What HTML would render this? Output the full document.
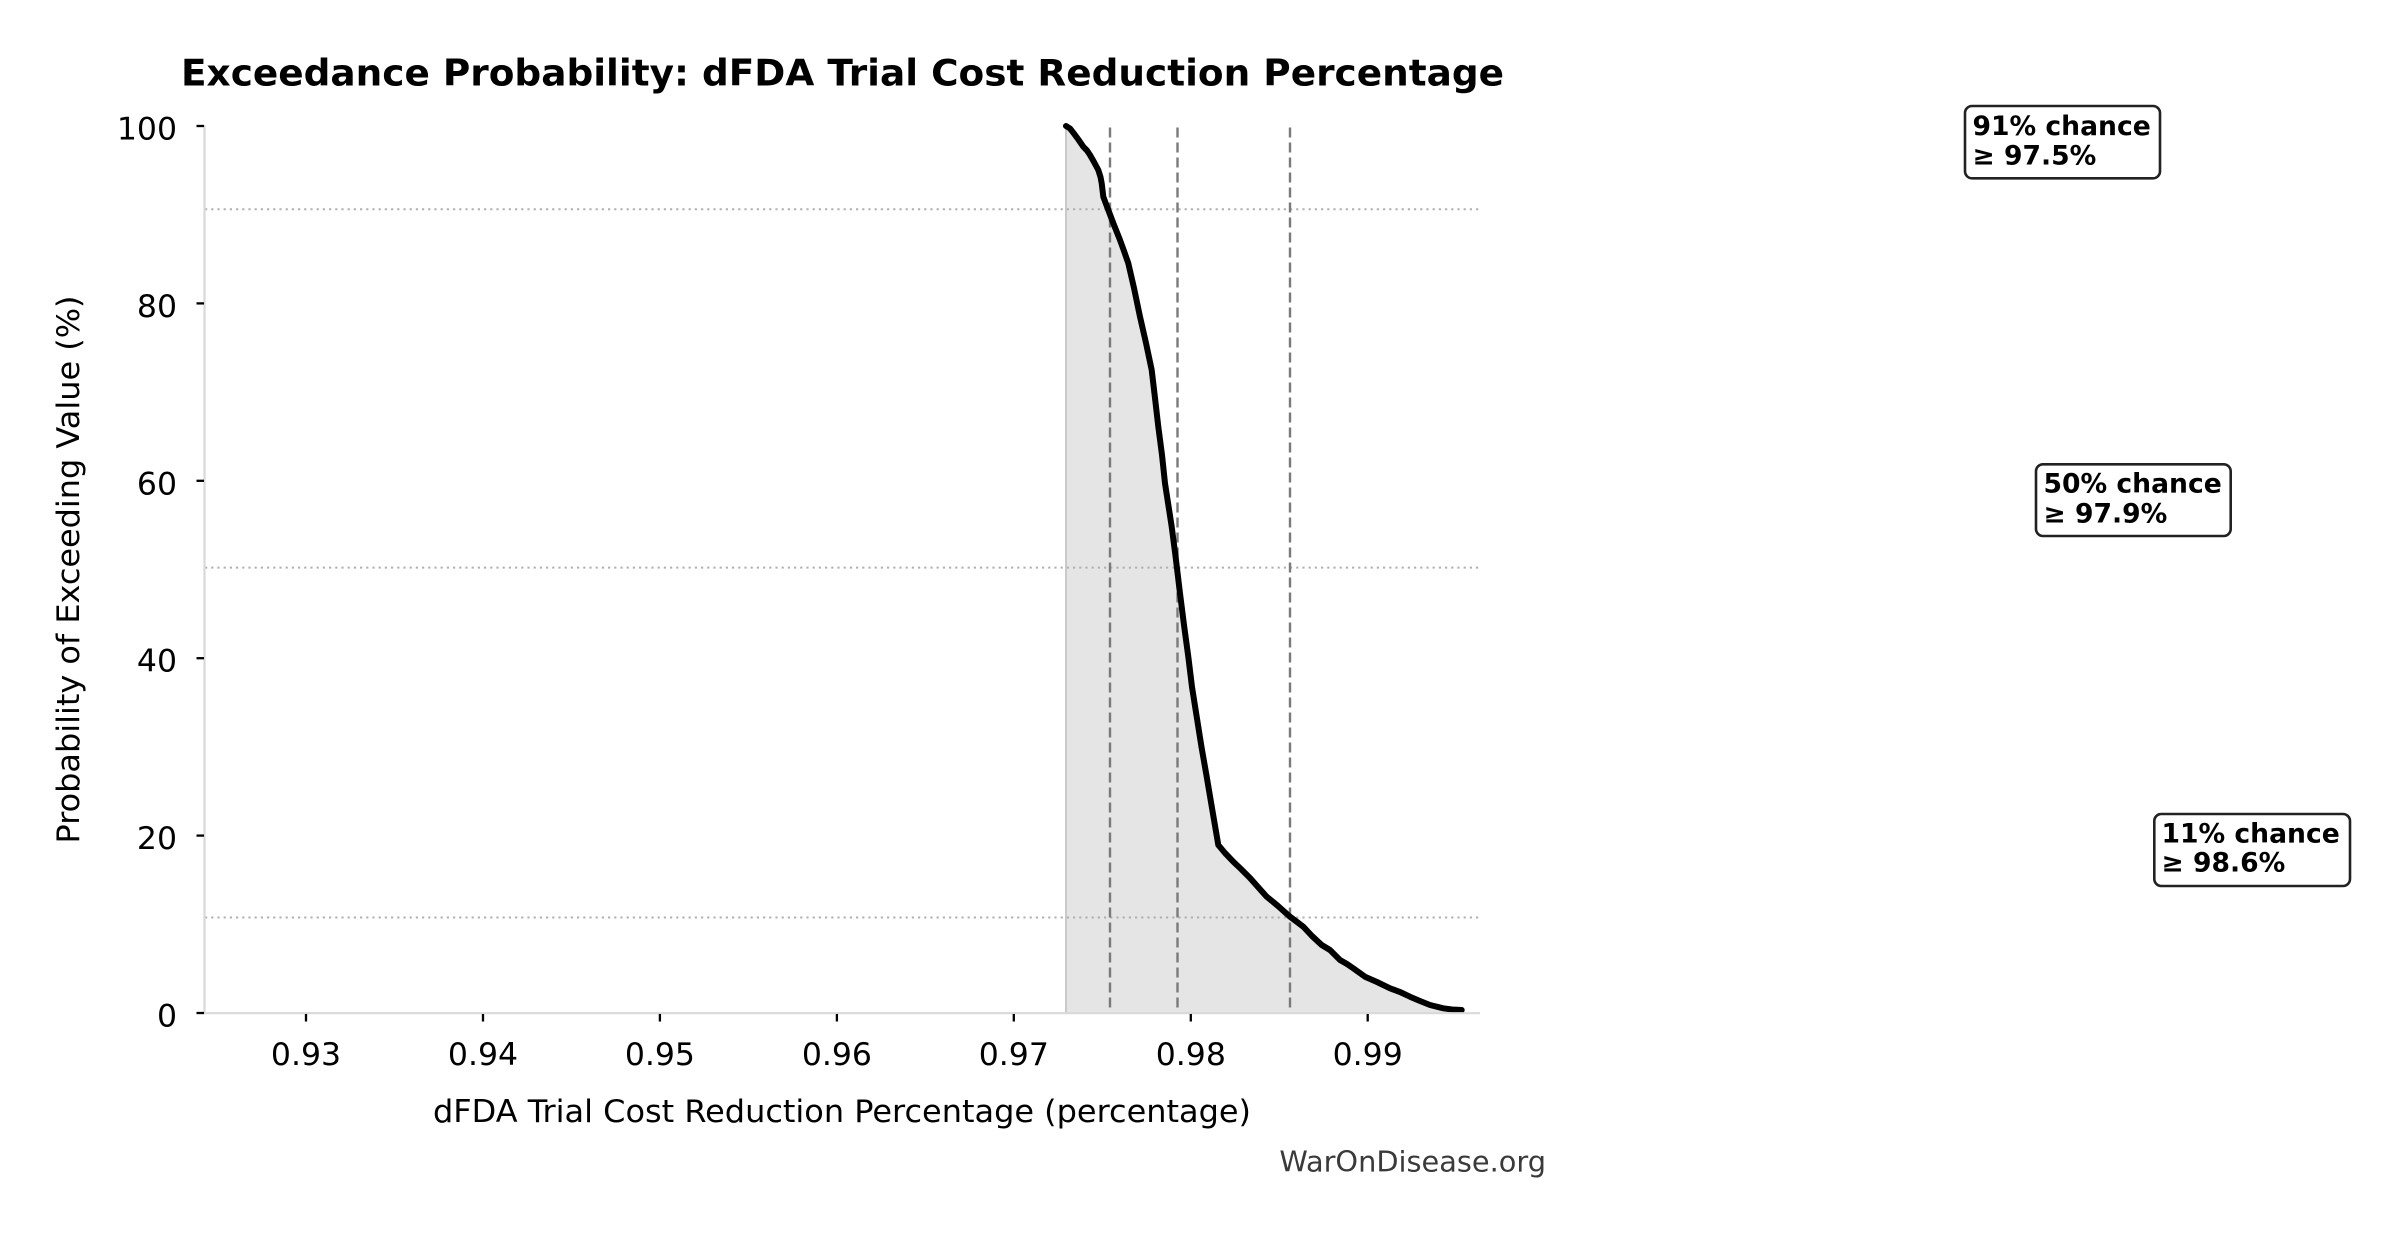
<!DOCTYPE html>
<html>
<head>
<meta charset="utf-8">
<style>
  html, body { margin: 0; padding: 0; background: #ffffff; }
  body { width: 2399px; height: 1234px; overflow: hidden; }
  svg { display: block; }
  text { font-family: "DejaVu Sans", "Liberation Sans", sans-serif; }
</style>
</head>
<body>
<svg width="2399" height="1234" viewBox="0 0 2399 1234" xmlns="http://www.w3.org/2000/svg">
  <rect x="0" y="0" width="2399" height="1234" fill="#ffffff"/>

  <!-- Title -->
  <text x="181" y="85.7" font-size="36.8" font-weight="bold" fill="#000" textLength="1323" lengthAdjust="spacingAndGlyphs">Exceedance Probability: dFDA Trial Cost Reduction Percentage</text>

  <!-- Fill under curve -->
  <path d="M1066,126 L1070,128.5 L1073.3,132.7 L1078,139 L1083.3,146.7 L1087,150.5 L1090,155 L1094,162 L1098.3,170 L1100.5,177 L1101.7,183.3 L1102.5,190 L1103.3,196.7 L1106,204 L1108.3,210 L1114,225 L1120,240 L1124,251 L1128.3,263.3 L1134,288 L1140,316.7 L1146,343 L1151.7,370 L1155,398 L1158.3,426.7 L1162,455 L1165,483.3 L1168.5,506 L1171.7,526.7 L1175.5,556 L1180,593.3 L1184,625 L1188.3,656.7 L1192,687 L1196.7,716.7 L1201.5,747 L1206.7,776.7 L1212.5,811 L1218.3,845 L1225,853 L1233.3,861.7 L1241,869 L1250,878 L1258,887 L1266.7,896.7 L1278,906 L1290,916.7 L1303.3,926.7 L1312,936 L1321.7,945 L1330,950 L1340,960 L1347,964 L1353.3,968.3 L1365,976.7 L1377,982 L1390,988.3 L1400,992 L1410,996.7 L1420,1001 L1430,1005 L1443.3,1008.3 L1452,1009.5 L1461.7,1010 L1461.7,1013 L1066,1013 Z" fill="#e5e5e5" stroke="none"/>
  <line x1="1066" y1="126" x2="1066" y2="1013" stroke="#c9c9c9" stroke-width="2"/>

  <!-- Horizontal dotted reference lines -->
  <g stroke="#b0b0b0" stroke-width="2" stroke-dasharray="2.2,4">
    <line x1="205" y1="209.3" x2="1480" y2="209.3"/>
    <line x1="205" y1="567.6" x2="1480" y2="567.6"/>
    <line x1="205" y1="917.5" x2="1480" y2="917.5"/>
  </g>

  <!-- Vertical dashed percentile lines -->
  <g stroke="#7a7a7a" stroke-width="2.4" stroke-dasharray="10,5">
    <line x1="1110" y1="127.5" x2="1110" y2="1013"/>
    <line x1="1177.5" y1="127.5" x2="1177.5" y2="1013"/>
    <line x1="1290" y1="127.5" x2="1290" y2="1013"/>
  </g>

  <!-- Curve -->
  <polyline fill="none" stroke="#000" stroke-width="6" stroke-linejoin="round" stroke-linecap="round"
    points="1066,126 1070,128.5 1073.3,132.7 1078,139 1083.3,146.7 1087,150.5 1090,155 1094,162 1098.3,170 1100.5,177 1101.7,183.3 1102.5,190 1103.3,196.7 1106,204 1108.3,210 1114,225 1120,240 1124,251 1128.3,263.3 1134,288 1140,316.7 1146,343 1151.7,370 1155,398 1158.3,426.7 1162,455 1165,483.3 1168.5,506 1171.7,526.7 1175.5,556 1180,593.3 1184,625 1188.3,656.7 1192,687 1196.7,716.7 1201.5,747 1206.7,776.7 1212.5,811 1218.3,845 1225,853 1233.3,861.7 1241,869 1250,878 1258,887 1266.7,896.7 1278,906 1290,916.7 1303.3,926.7 1312,936 1321.7,945 1330,950 1340,960 1347,964 1353.3,968.3 1365,976.7 1377,982 1390,988.3 1400,992 1410,996.7 1420,1001 1430,1005 1443.3,1008.3 1452,1009.5 1461.7,1010"/>

  <!-- Spines -->
  <line x1="204.5" y1="125" x2="204.5" y2="1014" stroke="#d9d9d9" stroke-width="2.2"/>
  <line x1="203.5" y1="1013.2" x2="1480" y2="1013.2" stroke="#d9d9d9" stroke-width="2.2"/>

  <!-- Y ticks -->
  <g stroke="#000" stroke-width="2.3">
    <line x1="196.5" y1="126" x2="204" y2="126"/>
    <line x1="196.5" y1="303.4" x2="204" y2="303.4"/>
    <line x1="196.5" y1="480.8" x2="204" y2="480.8"/>
    <line x1="196.5" y1="658.2" x2="204" y2="658.2"/>
    <line x1="196.5" y1="835.6" x2="204" y2="835.6"/>
    <line x1="196.5" y1="1013" x2="204" y2="1013"/>
  </g>
  <g font-size="31.5" fill="#000" text-anchor="end">
    <text x="177" y="139.5">100</text>
    <text x="177" y="316.9">80</text>
    <text x="177" y="494.3">60</text>
    <text x="177" y="671.7">40</text>
    <text x="177" y="849.1">20</text>
    <text x="177" y="1026.5">0</text>
  </g>

  <!-- X ticks -->
  <g stroke="#000" stroke-width="2.3">
    <line x1="306" y1="1014" x2="306" y2="1021.5"/>
    <line x1="483" y1="1014" x2="483" y2="1021.5"/>
    <line x1="659.9" y1="1014" x2="659.9" y2="1021.5"/>
    <line x1="836.9" y1="1014" x2="836.9" y2="1021.5"/>
    <line x1="1013.8" y1="1014" x2="1013.8" y2="1021.5"/>
    <line x1="1190.8" y1="1014" x2="1190.8" y2="1021.5"/>
    <line x1="1367.7" y1="1014" x2="1367.7" y2="1021.5"/>
  </g>
  <g font-size="31.5" fill="#000" text-anchor="middle">
    <text x="306" y="1065">0.93</text>
    <text x="483" y="1065">0.94</text>
    <text x="659.9" y="1065">0.95</text>
    <text x="836.9" y="1065">0.96</text>
    <text x="1013.8" y="1065">0.97</text>
    <text x="1190.8" y="1065">0.98</text>
    <text x="1367.7" y="1065">0.99</text>
  </g>

  <!-- Axis labels -->
  <text x="842" y="1122" font-size="31.5" fill="#000" text-anchor="middle" textLength="818" lengthAdjust="spacingAndGlyphs">dFDA Trial Cost Reduction Percentage (percentage)</text>
  <text transform="translate(79,569.5) rotate(-90)" x="0" y="0" font-size="31.5" fill="#000" text-anchor="middle" textLength="548" lengthAdjust="spacingAndGlyphs">Probability of Exceeding Value (%)</text>

  <!-- Annotation boxes -->
  <g font-size="26.6" font-weight="bold" fill="#000">
    <rect x="1965" y="106" width="195" height="72.3" rx="7" ry="7" fill="#fff" stroke="#222" stroke-width="2.6"/>
    <text x="1972.5" y="135">91% chance</text>
    <text x="1972.5" y="164.3">≥ 97.5%</text>

    <rect x="2036" y="464.3" width="194.7" height="71.7" rx="7" ry="7" fill="#fff" stroke="#222" stroke-width="2.6"/>
    <text x="2043.5" y="492.7">50% chance</text>
    <text x="2043.5" y="522.7">≥ 97.9%</text>

    <rect x="2154.3" y="814" width="195.7" height="72" rx="7" ry="7" fill="#fff" stroke="#222" stroke-width="2.6"/>
    <text x="2161.5" y="842.7">11% chance</text>
    <text x="2161.5" y="871.7">≥ 98.6%</text>
  </g>

  <!-- Watermark -->
  <text x="1546" y="1171.7" font-size="28.8" fill="#3a3a3a" text-anchor="end">WarOnDisease.org</text>
</svg>
</body>
</html>
